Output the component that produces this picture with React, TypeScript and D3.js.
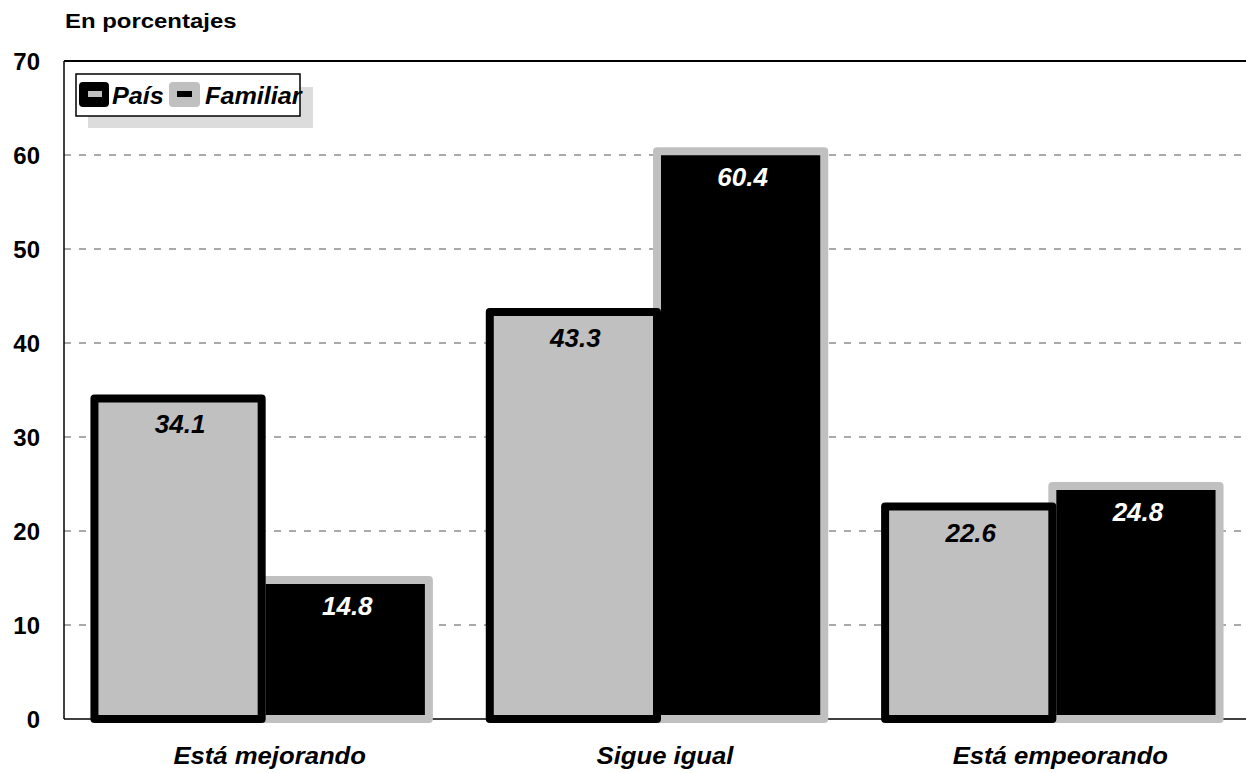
import React from 'react';
import * as d3 from 'd3';

const categories = ['Está mejorando', 'Sigue igual', 'Está empeorando'];
const seriesNames = ['País', 'Familiar'];
const paisValues = [34.1, 43.3, 22.6];
const familiarValues = [14.8, 60.4, 24.8];
const yTicks = [0, 10, 20, 30, 40, 50, 60, 70];

const W = 1246;
const H = 773;
const margin = { top: 61, left: 64, bottom: 54 };
const plotRight = 1250;
const GRAY = '#c0c0c0';
const FONT = "Arial, 'Liberation Sans', Helvetica, sans-serif";

const Txt: React.FC<{
  x: number; y: number; sx?: number; size: number; anchor?: string;
  italic?: boolean; fill?: string; children: React.ReactNode;
}> = ({ x, y, sx = 1, size, anchor = 'start', italic = false, fill = '#000', children }) => (
  <text
    transform={`translate(${x},${y}) scale(${sx},1)`}
    textAnchor={anchor}
    fontFamily={FONT}
    fontWeight="bold"
    fontStyle={italic ? 'italic' : 'normal'}
    fontSize={size}
    fill={fill}
  >
    {children}
  </text>
);

export default function App() {
  const y = d3.scaleLinear().domain([0, 70]).range([H - margin.bottom, margin.top]);
  const x0 = d3.scaleBand<string>().domain(categories).range([margin.left, plotRight]);
  const half = x0.bandwidth() * 0.423;
  const x1 = d3.scaleBand<string>().domain(seriesNames).range([-half, half]);

  const y0 = y(0);

  return (
    <svg width={W} height={H} style={{ position: 'absolute', left: 0, top: 0, background: '#fff' }}>
      {/* title */}
      <Txt x={65} y={28} size={21} sx={1.14}>En porcentajes</Txt>

      {/* gridlines */}
      {yTicks.filter(t => t > 0 && t < 70).map(t => (
        <line key={t} x1={margin.left} x2={W} y1={y(t)} y2={y(t)}
          stroke="#555" strokeWidth={1} strokeDasharray="7,8" />
      ))}

      {/* y tick labels */}
      {yTicks.map(t => (
        <Txt key={t} x={40} y={y(t) + 8.5} size={23.5} sx={1.02} anchor="end">{t}</Txt>
      ))}

      {/* frame */}
      <line x1={margin.left} x2={W} y1={margin.top} y2={margin.top} stroke="#000" strokeWidth={2} />
      <line x1={margin.left} x2={margin.left} y1={margin.top} y2={y0} stroke="#000" strokeWidth={1.5} />
      <line x1={margin.left} x2={W} y1={y0} y2={y0} stroke="#000" strokeWidth={1.5} />

      {/* bars */}
      {categories.map((c, i) => {
        const cx = (x0(c) as number) + x0.bandwidth() / 2;
        const fx = cx + (x1('Familiar') as number);
        const px = cx + (x1('País') as number);
        const bw = x1.bandwidth();
        const fv = familiarValues[i];
        const pv = paisValues[i];
        return (
          <g key={c}>
            <rect x={fx} y={y(fv)} width={bw} height={y0 - y(fv)}
              fill="#000" stroke={GRAY} strokeWidth={8} strokeLinejoin="round" />
            <rect x={px} y={y(pv)} width={bw} height={y0 - y(pv)}
              fill={GRAY} stroke="#000" strokeWidth={8} strokeLinejoin="round" />
            <Txt x={px + bw / 2 + 2} y={y(pv) + 35} size={25} sx={1.04} anchor="middle" italic>
              {pv.toFixed(1)}
            </Txt>
            <Txt x={fx + bw / 2 + 2} y={y(fv) + 35} size={25} sx={1.04} anchor="middle" italic fill="#fff">
              {fv.toFixed(1)}
            </Txt>
            <Txt x={cx + 8} y={764} size={24} sx={1.07} anchor="middle" italic>{c}</Txt>
          </g>
        );
      })}

      {/* legend */}
      <g>
        <rect x={88} y={87} width={225} height={41} fill="#dcdcdc" />
        <rect x={76} y={74} width={224} height={42} fill="#fff" stroke="#000" strokeWidth={1.5} />
        <rect x={79} y={82} width={30} height={25} rx={4} fill="#000" />
        <rect x={88} y={91} width={14} height={6} fill={GRAY} />
        <Txt x={112} y={104} size={24} sx={1.05} italic>{seriesNames[0]}</Txt>
        <rect x={169} y={82} width={31} height={25} rx={4} fill={GRAY} />
        <rect x={177} y={91} width={15} height={6} fill="#000" />
        <Txt x={205} y={104} size={24} sx={1.05} italic>{seriesNames[1]}</Txt>
      </g>
    </svg>
  );
}
